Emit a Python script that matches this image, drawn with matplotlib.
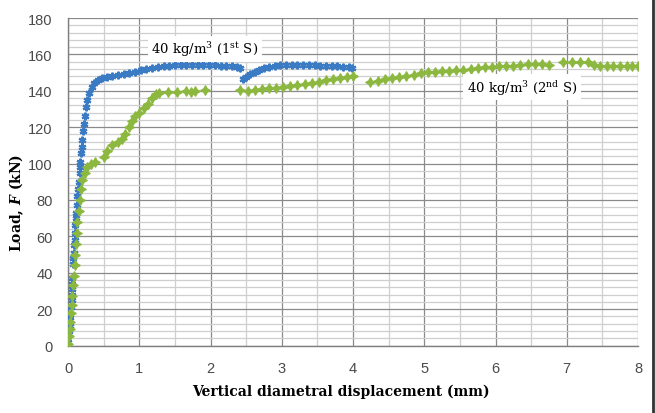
import numpy as np
import matplotlib
matplotlib.use("Agg")
import matplotlib.pyplot as plt
from matplotlib.ticker import MultipleLocator

plt.rcParams['mathtext.fontset'] = 'custom'
plt.rcParams['mathtext.rm'] = 'DejaVu Serif'
plt.rcParams['mathtext.it'] = 'DejaVu Serif:italic:bold'
plt.rcParams['mathtext.bf'] = 'DejaVu Serif:bold'

# 40 kg/m3, 1st specimen: (displacement mm, load kN)
x_1st = [0.00, 0.00, 0.01, 0.02, 0.02, 0.03, 0.04, 0.05, 0.05, 0.06, 0.05, 0.06, 0.07, 0.07,
         0.08, 0.08, 0.09, 0.10, 0.10, 0.11, 0.11, 0.12, 0.13, 0.14, 0.15, 0.16, 0.17, 0.17,
         0.18, 0.19, 0.20, 0.21, 0.22, 0.23, 0.25, 0.27, 0.30, 0.33, 0.37, 0.42, 0.48, 0.55,
         0.62, 0.70, 0.78, 0.86, 0.94, 1.02, 1.10, 1.18, 1.26, 1.34, 1.42, 1.50, 1.58, 1.66,
         1.74, 1.82, 1.90, 1.98, 2.06, 2.14, 2.22, 2.30, 2.37, 2.42,
         2.46, 2.50, 2.56, 2.62, 2.68, 2.75, 2.82, 2.90, 2.98, 3.06, 3.14, 3.22, 3.30, 3.38,
         3.46, 3.54, 3.62, 3.70, 3.78, 3.86, 3.94, 3.99]
y_1st = [2, 5, 8, 11, 14, 17, 21, 25, 28, 31, 34, 37, 45, 48,
         51, 55, 58, 62, 66, 70, 73, 77, 82, 86, 90, 95, 98, 101,
         106, 109, 113, 118, 122, 126, 131, 135, 139, 142, 144.5, 146, 147, 147.8,
         148.3, 148.6, 149, 149.6, 150.3, 151.2, 152, 152.7, 153.2, 153.6, 153.9, 154, 154, 154.2,
         154.1, 154, 154.2, 154, 154, 153.8, 153.7, 153.4, 153, 152.6,
         146.5, 147.8, 149.2, 150.3, 151.3, 152.3, 153.2, 153.7, 154, 154.3, 154.2, 154.3, 154.2, 154,
         154, 153.9, 153.8, 153.6, 153.4, 153.2, 153, 152.8]

# 40 kg/m3, 2nd specimen
x_2nd = [0.00, 0.01, 0.02, 0.03, 0.04, 0.05, 0.06, 0.07, 0.08, 0.09, 0.10, 0.11, 0.12, 0.13,
         0.15, 0.17, 0.18, 0.20, 0.23, 0.27, 0.32, 0.38, 0.50, 0.55, 0.62, 0.70, 0.76, 0.80,
         0.85, 0.89, 0.94, 1.00, 1.06, 1.12, 1.18, 1.24, 1.28, 1.40, 1.53, 1.65, 1.72, 1.78,
         1.92, 2.42, 2.52, 2.62, 2.72, 2.82, 2.92, 3.02, 3.12, 3.22, 3.32, 3.42, 3.52, 3.62,
         3.72, 3.82, 3.92, 4.00,
         4.24, 4.35, 4.45, 4.55, 4.65, 4.75, 4.85, 4.95, 5.05, 5.15, 5.25, 5.35, 5.45, 5.55,
         5.65, 5.75, 5.85, 5.95, 6.05, 6.15, 6.25, 6.35, 6.45, 6.55, 6.65, 6.75, 6.95, 7.07,
         7.19, 7.30, 7.38, 7.47, 7.56, 7.65, 7.75, 7.84, 7.92, 8.00]
y_2nd = [1, 5, 9, 13, 18, 22, 27, 33, 38, 44, 50, 56, 62, 68,
         74, 80, 86, 91, 95, 98, 100, 101, 103.5, 107, 110, 112, 113.5, 116,
         120, 123.5, 126, 128, 130.5, 133, 136, 138, 139, 139.2, 139.4, 139.8, 139.5, 140,
         140.2, 140.5, 140, 140.3, 140.8, 141.3, 141.8, 142.2, 142.8, 143.3, 143.8, 144.3, 145, 145.8,
         146.4, 147, 147.6, 148.3,
         145, 145.6, 146.3, 146.9, 147.4, 148, 148.8, 149.6, 150.3, 150.6, 150.9, 151.1, 151.3, 151.6,
         152, 152.5, 153, 153.1, 153.4, 153.6, 153.8, 154, 154.5, 154.7, 154.6, 154.2, 155.6, 156,
         156, 155.6, 154.3, 153.8, 153.6, 153.6, 153.8, 153.6, 153.7, 153.6]

x_ticks = np.arange(0, 9, 1)
y_ticks = np.arange(0, 181, 20)

fig = plt.figure(figsize=(6.55, 4.14), dpi=100)
ax = fig.add_axes([0.104, 0.163, 0.870, 0.791])

ax.plot(x_1st, y_1st, linestyle='none', marker=(6, 2, 0), markersize=5.5,
        markeredgewidth=1.6, color='#3a7bc4', zorder=3)
ax.plot(x_2nd, y_2nd, linestyle='none', marker=(4, 1, 0), markersize=7,
        markeredgewidth=0.9, color='#8cb840', markeredgecolor='#8cb840', zorder=3)

ax.set_xlim(0, 8)
ax.set_ylim(0, 180)
ax.set_xticks(x_ticks)
ax.set_yticks(y_ticks)
ax.xaxis.set_minor_locator(MultipleLocator(0.5))
ax.yaxis.set_minor_locator(MultipleLocator(4))
ax.grid(True, which='major', color='#8a8a8a', linewidth=0.9)
ax.grid(True, which='minor', color='#cfcfcf', linewidth=0.9)
ax.set_axisbelow(True)
ax.tick_params(which='both', length=0, labelsize=10.5, labelcolor='#4a4a4a')
ax.tick_params(axis='x', pad=11)
ax.tick_params(axis='y', pad=11)
for lab in ax.get_xticklabels() + ax.get_yticklabels():
    lab.set_family('Liberation Sans')
for s in ['top', 'right']:
    ax.spines[s].set_visible(False)
for s in ['left', 'bottom']:
    ax.spines[s].set_color('#7f7f7f')
    ax.spines[s].set_linewidth(1.0)

ax.set_xlabel('Vertical diametral displacement (mm)', family='DejaVu Serif',
              fontweight='bold', fontsize=10)
ax.xaxis.label.set_va('center')
ax.xaxis.set_label_coords(0.479, -0.138)
ax.set_ylabel('Load, $F$ (kN)', family='DejaVu Serif', fontweight='bold', fontsize=10)
ax.yaxis.label.set_va('center')
ax.yaxis.set_label_coords(-0.09, 0.44)

box = dict(facecolor='white', edgecolor='none', pad=2.5)
ax.text(1.92, 163, r'40 kg/m$^{\mathrm{3}}$ (1$^{\mathrm{st}}$ S)', family='DejaVu Serif',
        fontsize=9.5, ha='center', va='center', bbox=box, zorder=4)
ax.text(6.37, 142, r'40 kg/m$^{\mathrm{3}}$ (2$^{\mathrm{nd}}$ S)', family='DejaVu Serif',
        fontsize=9.5, ha='center', va='center', bbox=box, zorder=4)

fig.add_artist(plt.Line2D([0.997, 0.997], [0, 1], transform=fig.transFigure,
                          color='#333333', linewidth=2))

fig.savefig('out.png', dpi=100)
